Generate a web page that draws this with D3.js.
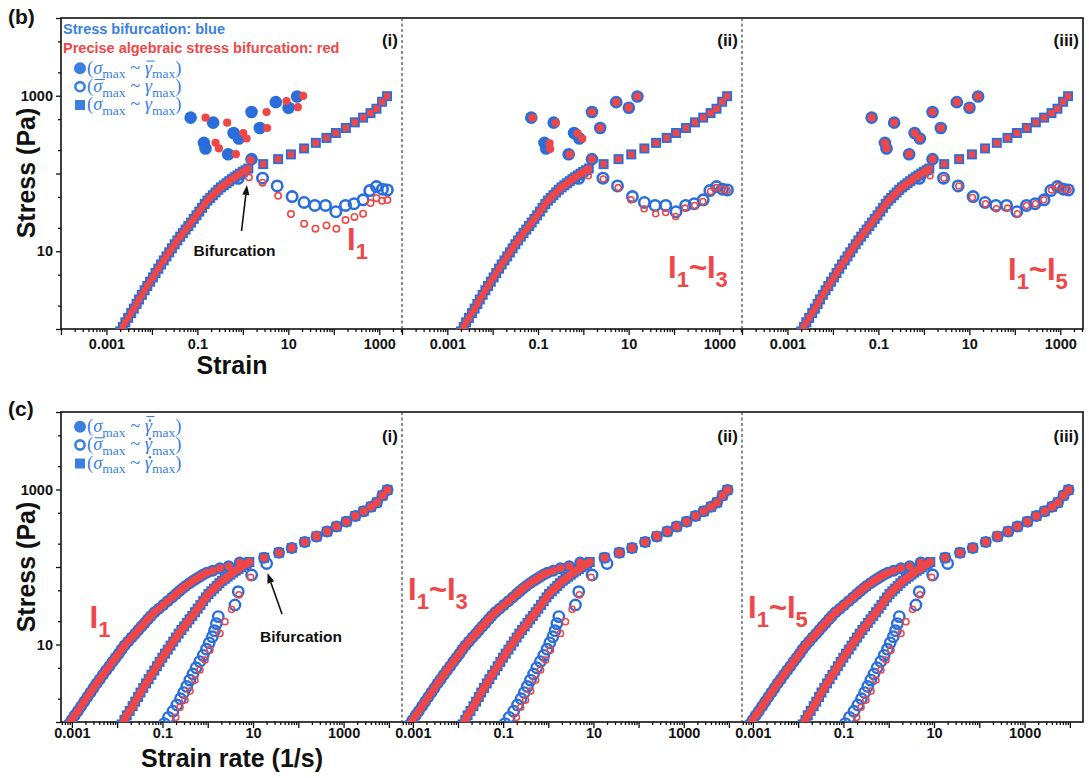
<!DOCTYPE html>
<html>
<head>
<meta charset="utf-8">
<script src="https://cdn.jsdelivr.net/npm/d3@7"></script>
<style>
  body { margin: 0; background: #fff; }
  svg { display: block; }
</style>
</head>
<body>
<svg id="fig" width="1089" height="778"></svg>
<script>
// ---------- (b) stress vs strain ----------
// σ_max ~ γ_max (filled squares): strain sweep incl. branch after bifurcation
const squaresStrain = [0.0020, 0.0023, 0.0026, 0.0030, 0.0035, 0.0040, 0.0046, 0.0052, 0.0060, 0.0069,
  0.0079, 0.0091, 0.0105, 0.0120, 0.0138, 0.0158, 0.0182, 0.0209, 0.0240, 0.0275,
  0.0316, 0.0363, 0.0417, 0.0479, 0.0550, 0.0631, 0.0724, 0.0832, 0.0955, 0.110,
  0.126, 0.145, 0.166, 0.191, 0.219, 0.251, 0.288, 0.331, 0.380, 0.437,
  0.501, 0.575, 0.661, 0.759, 0.871, 1.00, 1.15, 1.32,
  2.80, 5.97, 11.4, 22.2, 40.2, 69.0, 111, 184, 290, 441, 641, 867, 1153, 1484];
const squaresStress = [0.93, 1.06, 1.22, 1.39, 1.60, 1.83, 2.10, 2.40, 2.75, 3.15,
  3.57, 4.06, 4.61, 5.25, 5.97, 6.76, 7.62, 8.59, 9.68, 10.9,
  12.3, 13.8, 15.4, 17.1, 19.0, 21.1, 23.4, 26.1, 29.0, 32.4,
  36.2, 40.5, 44.8, 48.5, 52.6, 57.0, 61.8, 66.4, 70.5, 75.0,
  79.6, 84.5, 89.5, 94.4, 99.5, 105, 110, 116,
  132, 153, 176, 210, 248, 287, 332, 385, 455, 523, 598, 681, 837, 987];

// σ_max ~ γ̄_max (filled circles)
const fcStrain = [0.071, 0.222, 0.139, 0.151, 0.475, 0.625, 0.817, 1.55, 2.36, 1.55, 5.31, 10.1, 15.6];
const fcStress = [523, 451, 248, 210, 177, 332, 282, 617, 385, 153, 827, 702, 978];
const fcRedStrainI = [0.151, 0.452, 0.251, 0.297, 0.701, 1.02, 1.21, 3.32, 3.42, 1.48, 9.12, 16.2, 21.1];
const fcRedStressI = [523, 451, 248, 210, 177, 332, 282, 617, 385, 149, 853, 712, 995];
const fcRedStrainII = [0.075, 0.245, 0.180, 0.185, 0.500, 0.750, 0.950, 1.55, 2.36, 1.55, 5.31, 10.1, 15.6];
const fcRedStressII = [520, 448, 244, 207, 176, 328, 280, 617, 385, 153, 827, 702, 978];

// σ̄_max ~ γ_max (open circles)
const ocStrain = [0.79, 2.71, 5.68, 12.1, 22.2, 38.2, 65.7, 111, 181, 279, 441, 618, 867, 1175, 1510];
const ocStress = [86.8, 87.0, 69.2, 50.5, 42.4, 38.8, 38.8, 32.2, 38.8, 40.8, 45.9, 60.3, 67.8, 62.8, 61.5];
const ocRedStrainI = [1.36, 2.71, 5.97, 11.4, 22.2, 39.5, 69.0, 114, 181, 285, 441, 641, 867, 1153, 1510];
const ocRedStressI = [89.4, 76.3, 51.6, 30.1, 22.6, 19.5, 21.5, 19.4, 25.2, 27.6, 30.4, 41.6, 48.2, 44.5, 45.5];
const ocRedStrainII = [1.29, 2.75, 5.88, 11.2, 21.9, 39.5, 65.7, 109, 175, 285, 434, 641, 851, 1153, 1484];
const ocRedStressII = [93.7, 85.0, 65.9, 45.8, 35.2, 30.3, 31.5, 28.0, 35.9, 38.8, 43.6, 58.6, 65.9, 62.8, 61.0];
const ocRedStrainIII = [1.36, 2.75, 5.88, 11.7, 22.7, 39.5, 69.0, 114, 181, 285, 434, 641, 895, 1153, 1484];
const ocRedStressIII = [93.7, 86.9, 69.2, 49.1, 40.8, 35.2, 35.9, 30.4, 38.8, 40.8, 45.9, 61.5, 67.8, 62.8, 61.5];

// ---------- (c) stress vs strain rate ----------
const squaresRate = [0.0126, 0.0145, 0.0163, 0.0189, 0.0220, 0.0251, 0.0289, 0.0327, 0.0377, 0.0434,
  0.0496, 0.0572, 0.0660, 0.0754, 0.0867, 0.0993, 0.114, 0.131, 0.151, 0.173,
  0.199, 0.228, 0.262, 0.301, 0.346, 0.396, 0.455, 0.523, 0.600, 0.691,
  0.792, 0.911, 1.04, 1.20, 1.38, 1.58, 1.81, 2.08, 2.39, 2.75,
  3.15, 3.61, 4.15, 4.77, 5.47, 6.28, 7.23, 8.29,
  17.6, 37.5, 71.6, 139, 253, 434, 697, 1156, 1822, 2771, 4027, 5447, 7244, 9324];
const fcRate = [0.00084, 0.00099, 0.00116, 0.00136, 0.00160, 0.00187, 0.00220, 0.00258, 0.00301, 0.00352,
  0.00413, 0.00486, 0.00570, 0.00671, 0.00791, 0.00925, 0.0108, 0.0125, 0.0146, 0.0175,
  0.0209, 0.0250, 0.0294, 0.0344, 0.0406, 0.0476, 0.0558, 0.0670, 0.0834, 0.104,
  0.130, 0.163, 0.199, 0.234, 0.275, 0.324, 0.395, 0.478, 0.561, 0.662,
  0.778, 0.955, 1.29, 1.86, 2.90, 5.10,
  17.6, 37.5, 71.6, 139, 253, 434, 697, 1156, 1822, 2771, 4027, 5447, 7244, 9324];
const fcRateStress = [0.93, 1.06, 1.22, 1.39, 1.60, 1.83, 2.10, 2.40, 2.75, 3.15,
  3.57, 4.06, 4.61, 5.25, 5.97, 6.76, 7.62, 8.59, 9.68, 10.9,
  12.3, 13.8, 15.4, 17.1, 19.0, 21.1, 23.4, 26.1, 29.0, 32.4,
  36.2, 40.5, 44.8, 48.5, 52.6, 57.0, 61.8, 66.4, 70.5, 75.0,
  79.6, 84.5, 89.5, 96.2, 102, 114,
  132, 153, 176, 210, 248, 287, 332, 385, 455, 523, 598, 681, 837, 987];
const ocRate = [0.110, 0.136, 0.171, 0.208, 0.250, 0.294, 0.344, 0.403, 0.472, 0.553,
  0.668, 0.794, 0.938, 1.08, 1.26, 1.41, 1.55, 1.71, 3.99, 4.72, 9.33, 20.0];
const ocRateStress = [0.955, 1.15, 1.38, 1.66, 2.00, 2.40, 2.88, 3.47, 4.17, 5.01,
  6.03, 7.24, 8.71, 10.5, 12.6, 15.1, 18.6, 22.9, 32.4, 48.1, 78.9, 111];
const ocRedRate = [0.196, 0.244, 0.314, 0.406, 0.522, 0.673, 0.869, 1.12, 1.86, 2.40, 3.37, 4.89, 8.87, 251];
const ocRedRateStress = [1.15, 1.55, 1.92, 2.51, 3.48, 4.69, 6.31, 8.49, 13.9, 19.7, 28.4, 43.6, 73.6, 257];

// ---------- labels ----------
const panelTags = ["(i)", "(ii)", "(iii)"];
const invariantSubs = [["1"], ["1", "3"], ["1", "5"]];
const xTickLabelExps = [-3, -1, 1, 3];
const yTickLabelExps = [1, 3];

// ---------- layout ----------
const BLUE = "#2a6edb", RED = "#ef4747", LBLUE = "#3a80e0";
const SANS = "Arial, 'Liberation Sans', Helvetica, sans-serif";
const SERIF = "'Liberation Serif', 'Times New Roman', serif";
const panelX = [[61, 402], [402, 742], [742, 1083]];
const rowB = { top: 18, bottom: 329 };
const rowC = { top: 412, bottom: 722 };

const svg = d3.select("#fig");
const defs = svg.append("defs");

const yB = d3.scaleLog().domain([1, 1e4]).range([rowB.bottom, rowB.top]);
const yC = d3.scaleLog().domain([1, 1e4]).range([rowC.bottom, rowC.top]);
const xB = panelX.map(([l, r]) => d3.scaleLog().domain([1e-4, Math.pow(10, 3.5)]).range([l, r]));
const xC = panelX.map(([l, r]) => d3.scaleLog().domain([Math.pow(10, -3.24), Math.pow(10, 4.29)]).range([l, r]));

const isDecade = v => Math.abs(Math.log10(v) - Math.round(Math.log10(v))) < 1e-9;
const fmtPow = e => e < 0 ? Math.pow(10, e).toFixed(-e) : String(Math.pow(10, e));

function styleAxis(g) {
  g.select(".domain").remove();
  g.selectAll("line").attr("stroke", "#111").attr("stroke-width", 1.3);
  g.selectAll("text").attr("font-family", SANS).attr("font-weight", "bold")
    .attr("font-size", 14.5).attr("fill", "#111");
  g.selectAll(".tick").filter(function () { return d3.select(this).select("text").text() === ""; })
    .select("text").remove();
}

function xAxis(scale, y, pad) {
  const all = scale.ticks();
  const majors = all.filter(isDecade);
  const minors = all.filter(v => !isDecade(v));
  svg.append("g").attr("transform", `translate(0,${y})`)
    .call(d3.axisBottom(scale).tickValues(minors).tickSize(3).tickFormat(""))
    .call(styleAxis);
  svg.append("g").attr("transform", `translate(0,${y})`)
    .call(d3.axisBottom(scale).tickValues(majors).tickSize(6).tickPadding(pad)
      .tickFormat(v => xTickLabelExps.includes(Math.round(Math.log10(v))) ? fmtPow(Math.round(Math.log10(v))) : ""))
    .call(styleAxis);
}

function yAxis(scale, x) {
  const all = scale.ticks();
  const majors = all.filter(isDecade);
  const minors = all.filter(v => {
    const m = Math.round(v / Math.pow(10, Math.floor(Math.log10(v) + 1e-9)));
    return m === 2 || m === 5;
  });
  svg.append("g").attr("transform", `translate(${x},0)`)
    .call(d3.axisLeft(scale).tickValues(minors).tickSize(3).tickFormat(""))
    .call(styleAxis);
  svg.append("g").attr("transform", `translate(${x},0)`)
    .call(d3.axisLeft(scale).tickValues(majors).tickSize(5).tickPadding(3)
      .tickFormat(v => yTickLabelExps.includes(Math.round(Math.log10(v))) ? fmtPow(Math.round(Math.log10(v))) : ""))
    .call(styleAxis);
}

function clipFor(id, l, r, row) {
  defs.append("clipPath").attr("id", id).append("rect")
    .attr("x", l).attr("y", row.top).attr("width", r - l).attr("height", row.bottom - row.top);
  return svg.append("g").attr("clip-path", `url(#${id})`);
}

function dots(g, xs, ys, sx, sy, r, fill, stroke, sw) {
  g.append("g").selectAll("circle").data(d3.zip(xs, ys)).join("circle")
    .attr("cx", d => sx(d[0])).attr("cy", d => sy(d[1])).attr("r", r)
    .attr("fill", fill).attr("stroke", stroke || "none").attr("stroke-width", sw || 0);
}
function boxes(g, xs, ys, sx, sy, s, fill) {
  g.append("g").selectAll("rect").data(d3.zip(xs, ys)).join("rect")
    .attr("x", d => sx(d[0]) - s / 2).attr("y", d => sy(d[1]) - s / 2)
    .attr("width", s).attr("height", s).attr("fill", fill);
}

function invariantLabel(x, y, subs) {
  const t = svg.append("text").attr("x", x).attr("y", y).attr("fill", RED)
    .attr("font-family", SANS).attr("font-weight", "bold").attr("font-size", 31);
  subs.forEach((s, i) => {
    if (i > 0) t.append("tspan").attr("dy", -9).attr("font-size", 31).text("~");
    t.append("tspan").text("I");
    t.append("tspan").attr("dy", 9).attr("font-size", 22).text(s);
  });
}

function arrow(x1, y1, x2, y2) {
  const a = Math.atan2(y2 - y1, x2 - x1), L = 10, w = 3.6;
  const bx = x2 - L * Math.cos(a), by = y2 - L * Math.sin(a);
  svg.append("line").attr("x1", x1).attr("y1", y1).attr("x2", bx).attr("y2", by)
    .attr("stroke", "#111").attr("stroke-width", 1.6);
  svg.append("path").attr("fill", "#111").attr("d",
    `M${x2},${y2}L${bx + w * Math.sin(a)},${by - w * Math.cos(a)}L${bx - w * Math.sin(a)},${by + w * Math.cos(a)}Z`);
}

// ---------- frames, separators, axes ----------
[rowB, rowC].forEach(row => {
  svg.append("rect").attr("x", 61).attr("y", row.top).attr("width", 1083 - 61)
    .attr("height", row.bottom - row.top).attr("fill", "none")
    .attr("stroke", "#111").attr("stroke-width", 1.6);
  [402, 742].forEach(x => svg.append("line").attr("x1", x).attr("x2", x)
    .attr("y1", row.top).attr("y2", row.bottom + 4)
    .attr("stroke", "#444").attr("stroke-width", 1.2).attr("stroke-dasharray", "3,2.5"));
});
xB.forEach(s => xAxis(s, rowB.bottom, 4));
xC.forEach(s => xAxis(s, rowC.bottom, 0));
yAxis(yB, 61);
yAxis(yC, 61);

// ---------- (b) data ----------
const redFcB = [[fcRedStrainI, fcRedStressI], [fcRedStrainII, fcRedStressII], [fcStrain, fcStress]];
const redOcB = [[ocRedStrainI, ocRedStressI], [ocRedStrainII, ocRedStressII], [ocRedStrainIII, ocRedStressIII]];
xB.forEach((sx, i) => {
  const g = clipFor("clipB" + i, panelX[i][0], panelX[i][1], rowB);
  boxes(g, squaresStrain, squaresStress, sx, yB, 10, BLUE);
  dots(g, fcStrain, fcStress, sx, yB, 6.3, BLUE);
  dots(g, ocStrain, ocStress, sx, yB, 5.2, "none", BLUE, 2.6);
  boxes(g, squaresStrain, squaresStress, sx, yB, 6.5, RED);
  dots(g, redFcB[i][0], redFcB[i][1], sx, yB, 4.1, RED);
  dots(g, redOcB[i][0], redOcB[i][1], sx, yB, i === 0 ? 3.2 : 3.0, "none", RED, 1.6);
});

// ---------- (c) data ----------
xC.forEach((sx, i) => {
  const g = clipFor("clipC" + i, panelX[i][0], panelX[i][1], rowC);
  boxes(g, squaresRate, squaresStress, sx, yC, 10, BLUE);
  dots(g, fcRate, fcRateStress, sx, yC, 6, BLUE);
  dots(g, ocRate, ocRateStress, sx, yC, 5.2, "none", BLUE, 2.4);
  dots(g, squaresRate, squaresStress, sx, yC, 4, RED);
  dots(g, fcRate, fcRateStress, sx, yC, 4, RED);
  dots(g, ocRedRate, ocRedRateStress, sx, yC, 3.1, "none", RED, 1.5);
});

// ---------- text ----------
function boldText(x, y, txt, size, opts = {}) {
  return svg.append("text").attr("x", x).attr("y", y).text(txt)
    .attr("font-family", SANS).attr("font-weight", "bold").attr("font-size", size)
    .attr("fill", opts.fill || "#111").attr("text-anchor", opts.anchor || "start");
}
boldText(8, 24, "(b)", 21);
boldText(8, 416, "(c)", 21);
panelTags.forEach((t, i) => {
  boldText(panelX[i][1] - 4, 46, t, 17, { anchor: "end" });
  boldText(panelX[i][1] - 4, 442, t, 17, { anchor: "end" });
});
boldText(232, 374, "Strain", 25, { anchor: "middle" });
boldText(232, 767, "Strain rate (1/s)", 25, { anchor: "middle" });
[173, 567].forEach(cy => {
  svg.append("text").attr("transform", `translate(35,${cy}) rotate(-90)`)
    .attr("text-anchor", "middle").attr("font-family", SANS).attr("font-weight", "bold")
    .attr("font-size", 25).attr("fill", "#111").text("Stress (Pa)");
});

boldText(63, 34, "Stress bifurcation: blue", 14.5, { fill: LBLUE });
boldText(63, 53, "Precise algebraic stress bifurcation: red", 14.5, { fill: RED });

boldText(234.5, 256, "Bifurcation", 15.5, { anchor: "middle" });
arrow(241.5, 231, 247, 185);
boldText(301, 642, "Bifurcation", 15.5, { anchor: "middle" });
arrow(282, 614, 267.5, 573);

invariantLabel(347, 250, invariantSubs[0]);
invariantLabel(668, 278, invariantSubs[1]);
invariantLabel(1008, 280, invariantSubs[2]);
invariantLabel(89.5, 628, invariantSubs[0]);
invariantLabel(408, 600, invariantSubs[1]);
invariantLabel(748, 618, invariantSubs[2]);

// ---------- legends with math ----------
function mathLine(x, y, parts) {
  const t = svg.append("text").attr("x", x).attr("y", y)
    .attr("font-family", SERIF).attr("font-size", 18.5).attr("fill", LBLUE);
  let idx = 0, lowered = false;
  const marks = [];
  parts.forEach(p => {
    const ts = t.append("tspan").text(p.t);
    if (p.it) ts.attr("font-style", "italic");
    if (p.sub) { ts.attr("font-size", 13.5).attr("dy", 4.5); lowered = true; }
    else if (lowered) { ts.attr("dy", -4.5); lowered = false; }
    if (p.bar || p.dot) marks.push({ i: idx, bar: p.bar, dot: p.dot });
    idx += p.t.length;
  });
  marks.forEach(m => {
    const r = t.node().getExtentOfChar(m.i);
    const cx = r.x + r.width / 2 + 1.5;
    if (m.dot) svg.append("circle").attr("cx", cx).attr("cy", y - 11.5).attr("r", 1.3).attr("fill", LBLUE);
    if (m.bar) {
      const by = m.dot ? y - 15.5 : y - 12.5;
      svg.append("line").attr("x1", r.x + 1.5).attr("x2", r.x + r.width + 2.5)
        .attr("y1", by).attr("y2", by).attr("stroke", LBLUE).attr("stroke-width", 1.1);
    }
  });
}
function legendRow(cy, kind, sigBar, gamBar, gamDot) {
  if (kind === "fill") svg.append("circle").attr("cx", 80).attr("cy", cy).attr("r", 6).attr("fill", LBLUE);
  if (kind === "open") svg.append("circle").attr("cx", 80).attr("cy", cy).attr("r", 4.6)
    .attr("fill", "none").attr("stroke", LBLUE).attr("stroke-width", 2.6);
  if (kind === "square") svg.append("rect").attr("x", 75).attr("y", cy - 5).attr("width", 10).attr("height", 10).attr("fill", LBLUE);
  mathLine(87, cy + 5.3, [
    { t: "(" }, { t: "σ", it: true, bar: sigBar }, { t: "max", sub: true },
    { t: " ~ " }, { t: "γ", it: true, bar: gamBar, dot: gamDot }, { t: "max", sub: true }, { t: ")" }
  ]);
}
legendRow(68.3, "fill", false, true, false);
legendRow(86.7, "open", true, false, false);
legendRow(105, "square", false, false, false);
legendRow(426.7, "fill", false, true, true);
legendRow(445, "open", true, false, true);
legendRow(463.5, "square", false, false, true);
</script>
</body>
</html>
